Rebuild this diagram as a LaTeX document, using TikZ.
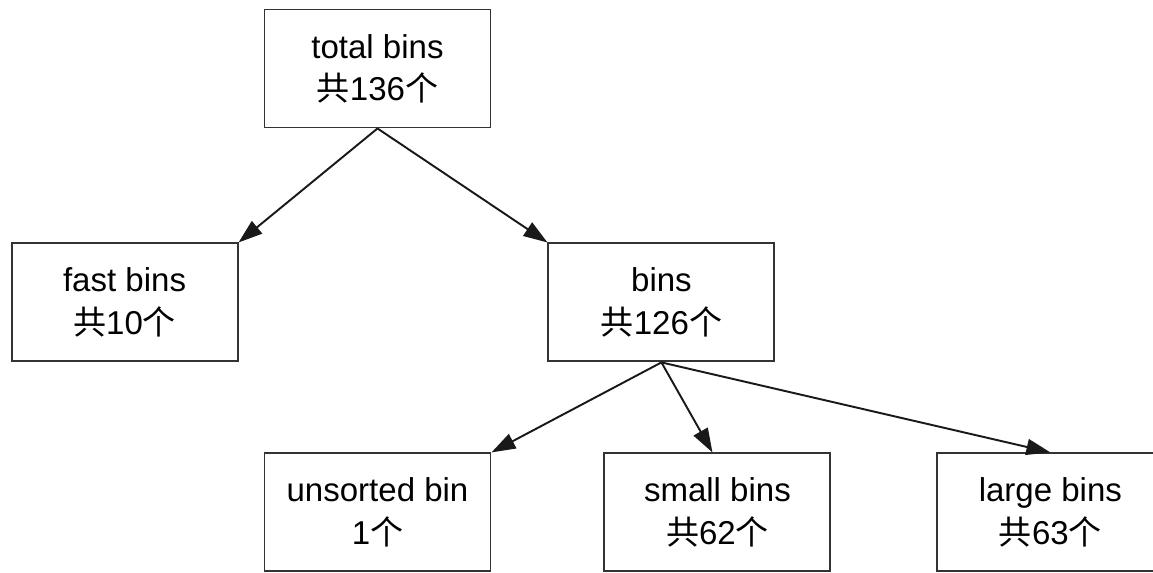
\documentclass[tikz,border=0pt]{standalone}
\usepackage{fontspec}
\setmainfont{Liberation Sans}
\newfontfamily\cjk{Noto Sans CJK SC}
\usepackage{tikz}
\usetikzlibrary{arrows.meta,positioning}

\begin{document}
\begin{tikzpicture}[
  font=\fontsize{18.8}{24}\selectfont,
  >={Triangle[length=4.8mm,width=3.2mm]},
  edge/.style={->,line width=1.1pt,draw=black!90},
  binbox/.style={draw=black!80,line width=1.1pt,align=center,inner sep=0pt,
                 minimum width=4.52cm,minimum height=2.36cm}
]
\useasboundingbox (0,0) rectangle (23.06,-11.46);

\node[binbox] (total) at (7.55,-1.37) {total bins\\{\cjk 共}136{\cjk 个}};
\node[binbox,below left=2.28cm and 0.5cm of total] (fast)
  {fast bins\\{\cjk 共}10{\cjk 个}};
\node[binbox,below right=2.28cm and 1.12cm of total] (bins)
  {bins\\{\cjk 共}126{\cjk 个}};
\node[binbox,below left=1.8cm and 1.12cm of bins] (unsorted)
  {unsorted bin\\1{\cjk 个}};
\node[binbox,right=2.24cm of unsorted] (small) {small bins\\{\cjk 共}62{\cjk 个}};
\node[binbox,right=2.1cm of small] (large) {large bins\\{\cjk 共}63{\cjk 个}};

\draw[edge] (total.south) -- (fast.north east);
\draw[edge] (total.south) -- (bins.north west);
\draw[edge] (bins.south) -- (unsorted.north east);
\draw[edge] (bins.south) -- ([xshift=-1mm]small.north);
\draw[edge] (bins.south) -- (large.north);
\end{tikzpicture}
\end{document}
